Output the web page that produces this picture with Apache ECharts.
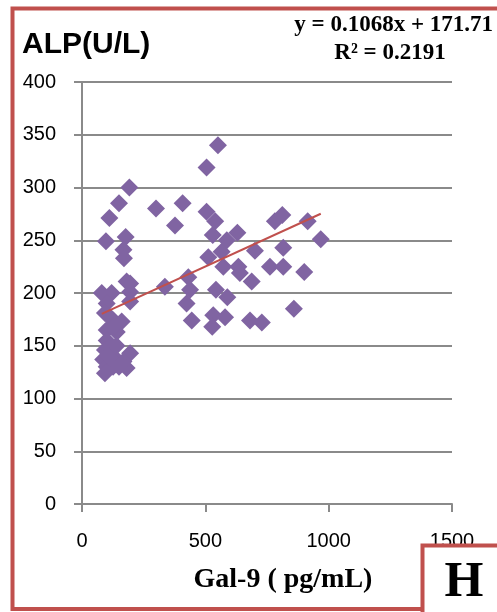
<!DOCTYPE html>
<html>
<head>
<meta charset="utf-8">
<script src="https://cdn.jsdelivr.net/npm/echarts@6/dist/echarts.min.js"></script>
<style>
  html, body { margin: 0; padding: 0; background: #fff; }
  #chart { width: 497px; height: 612px; }
</style>
</head>
<body>
<div id="chart"></div>
<script>
// Gal-9 (pg/mL) vs ALP (U/L) per subject
const gal9 = [
  300, 408, 377, 505, 551, 505, 540, 530, 587, 630,
  512, 566, 573, 634, 640, 688, 701, 336, 431, 438,
  424, 445, 543, 589, 532, 580, 528, 681, 729, 782,
  812, 915, 968, 816, 762, 816, 901, 859,
  192, 150, 111, 97, 177, 168, 170, 181, 195, 195,
  80, 120, 100, 93, 127, 161, 100, 141, 100, 93,
  195, 86, 127, 168, 100, 181, 126, 93, 195, 110,
  130, 115, 140, 110, 150
];
const alp = [
  280, 285, 264, 319, 340, 277, 268, 255, 250, 257,
  234, 239, 225, 225, 219, 211, 240, 206, 215, 203,
  190, 174, 203, 196, 179, 177, 168, 174, 172, 268,
  274, 268, 251, 243, 225, 225, 220, 185,
  300, 285, 271, 249, 253, 241, 233, 211, 201, 192,
  200, 200, 190, 181, 174, 173, 165, 163, 155, 146,
  143, 137, 140, 135, 130, 129, 130, 124, 209, 178,
  168, 150, 150, 140, 130
];

// Linear fit reported on the chart
const slope = 0.1068;
const intercept = 171.71;
const rSquared = 0.2191;

const xTicks = { min: 0, max: 1500, interval: 500 };
const yTicks = { min: 0, max: 400, interval: 50 };

const points = gal9.map((g, i) => [g, alp[i]]);
const xLo = Math.min(...gal9);
const xHi = Math.max(...gal9);
const fitLine = [[xLo, slope * xLo + intercept], [xHi, slope * xHi + intercept]];

const chart = echarts.init(document.getElementById('chart'), null, { renderer: 'canvas' });
const gray = '#8a8a8a';
const frameRed = '#C0504D';

chart.setOption({
  animation: false,
  backgroundColor: '#ffffff',
  grid: { left: 82, right: 45, top: 82, bottom: 108, containLabel: false },
  xAxis: {
    type: 'value',
    min: xTicks.min, max: xTicks.max, interval: xTicks.interval,
    axisLine: { show: true, lineStyle: { color: gray, width: 2 } },
    axisTick: { show: true, length: 8, lineStyle: { color: gray, width: 2 } },
    splitLine: { show: false },
    axisLabel: {
      color: '#000', fontFamily: 'Liberation Sans', fontSize: 20, margin: 27,
      formatter: v => String(v)
    }
  },
  yAxis: {
    type: 'value',
    min: yTicks.min, max: yTicks.max, interval: yTicks.interval,
    axisLine: { show: true, lineStyle: { color: gray, width: 2 } },
    axisTick: { show: true, length: 8, lineStyle: { color: gray, width: 2 } },
    splitLine: { show: true, lineStyle: { color: gray, width: 2 } },
    axisLabel: {
      color: '#000', fontFamily: 'Liberation Sans', fontSize: 20, margin: 26,
      formatter: v => String(v)
    }
  },
  series: [
    {
      type: 'scatter',
      data: points,
      symbol: 'diamond',
      symbolSize: 18,
      itemStyle: { color: '#8064A2', opacity: 1 },
      z: 2
    },
    {
      type: 'line',
      data: fitLine,
      symbol: 'none',
      lineStyle: { color: frameRed, width: 2 },
      z: 3
    }
  ],
  graphic: [
    {
      type: 'rect',
      shape: { x: 12.5, y: 8.5, width: 500, height: 600.5 },
      style: { fill: 'none', stroke: frameRed, lineWidth: 4 },
      z: 10
    },
    {
      type: 'rect',
      shape: { x: 422.5, y: 545.5, width: 100, height: 80 },
      style: { fill: '#fff', stroke: frameRed, lineWidth: 4 },
      z: 10
    },
    {
      type: 'text',
      left: 22, top: 30,
      style: { text: 'ALP(U/L)', font: 'bold 30px "Liberation Sans"', fill: '#000' },
      z: 11
    },
    {
      type: 'text',
      right: 4, top: 14,
      style: {
        text: 'y = ' + slope.toFixed(4) + 'x + ' + intercept.toFixed(2),
        font: 'bold 23px "Liberation Serif"', fill: '#000'
      },
      z: 11
    },
    {
      type: 'text',
      x: 390, y: 42,
      style: {
        text: 'R² = ' + rSquared.toFixed(4),
        font: 'bold 23px "Liberation Serif"', fill: '#000', textAlign: 'center'
      },
      z: 11
    },
    {
      type: 'text',
      x: 283, y: 566,
      style: { text: 'Gal-9 ( pg/mL)', font: 'bold 28px "Liberation Serif"', fill: '#000', textAlign: 'center' },
      z: 11
    },
    {
      type: 'text',
      x: 464, y: 558,
      style: { text: 'H', font: 'bold 50px "Liberation Serif"', fill: '#000', textAlign: 'center' },
      z: 11
    }
  ]
});
</script>
</body>
</html>
